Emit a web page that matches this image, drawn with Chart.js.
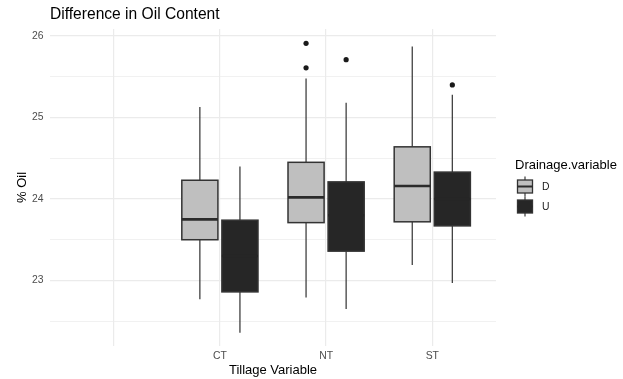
<!DOCTYPE html>
<html>
<head>
<meta charset="utf-8">
<script src="https://cdn.jsdelivr.net/npm/chart.js@4"></script>
<style>
  html, body { margin: 0; padding: 0; background: #ffffff; }
  #wrap { width: 623px; height: 379px; }
</style>
</head>
<body>
<div id="wrap"><canvas id="c" width="623" height="379"></canvas></div>
<script>
// ---- data ----
const categories = ['', 'CT', 'NT', 'ST'];
const groups = ['D', 'U'];
const yTicks = [22.5, 23, 23.5, 24, 24.5, 25, 25.5, 26];

const dMin = [null, 22.77, 22.79, 23.19];
const dQ1  = [null, 23.50, 23.71, 23.72];
const dMed = [null, 23.75, 24.02, 24.16];
const dQ3  = [null, 24.23, 24.45, 24.64];
const dMax = [null, 25.13, 25.48, 25.87];
const dOut = [[], [], [25.61, 25.91], []];

const uMin = [null, 22.36, 22.65, 22.97];
const uQ1  = [null, 22.86, 23.36, 23.67];
const uMed = [null, 23.30, 23.80, 24.00];
const uQ3  = [null, 23.74, 24.21, 24.33];
const uMax = [null, 24.40, 25.18, 25.28];
const uOut = [[], [], [25.71], [25.40]];

// ---- styling / layout ----
const FONT = "'Liberation Sans', Arial, Helvetica, sans-serif";
const fills = { D: '#bfbfbf', U: '#262626' };
const medianColors = { D: '#2b2b2b', U: '#262626' };
const dodge = { D: -0.1887, U: 0.1887 };
const boxHalf = 0.17;

const stats = {
  D: { min: dMin, q1: dQ1, med: dMed, q3: dQ3, max: dMax, out: dOut },
  U: { min: uMin, q1: uQ1, med: uMed, q3: uQ3, max: uMax, out: uOut }
};

function outlierPoints(g) {
  const pts = [];
  stats[g].out.forEach((arr, i) => arr.forEach(v => pts.push({ x: i + 1 + dodge[g], y: v })));
  return pts;
}

const boxPlugin = {
  id: 'boxes',
  beforeDatasetsDraw(chart) {
    const { ctx, scales: { x, y } } = chart;
    ctx.save();
    groups.forEach(g => {
      const s = stats[g];
      categories.forEach((c, i) => {
        if (s.q1[i] == null) return;
        const xc = x.getPixelForValue(i + 1 + dodge[g]);
        const hw = x.getPixelForValue(i + 1 + dodge[g] + boxHalf) - xc;
        const yMin = y.getPixelForValue(s.min[i]);
        const yQ1 = y.getPixelForValue(s.q1[i]);
        const yMed = y.getPixelForValue(s.med[i]);
        const yQ3 = y.getPixelForValue(s.q3[i]);
        const yMax = y.getPixelForValue(s.max[i]);
        // whiskers
        ctx.strokeStyle = '#3a3a3a';
        ctx.lineWidth = 1.25;
        ctx.beginPath();
        ctx.moveTo(xc, yQ1); ctx.lineTo(xc, yMin);
        ctx.moveTo(xc, yQ3); ctx.lineTo(xc, yMax);
        ctx.stroke();
        // box
        ctx.fillStyle = fills[g];
        ctx.fillRect(xc - hw, yQ3, 2 * hw, yQ1 - yQ3);
        ctx.lineWidth = 1.5;
        ctx.strokeStyle = '#333333';
        ctx.strokeRect(xc - hw, yQ3, 2 * hw, yQ1 - yQ3);
        // median
        ctx.lineWidth = 2.6;
        ctx.strokeStyle = medianColors[g];
        ctx.beginPath();
        ctx.moveTo(xc - hw, yMed); ctx.lineTo(xc + hw, yMed);
        ctx.stroke();
      });
    });
    ctx.restore();
  },
  afterDraw(chart) {
    const { ctx, chartArea } = chart;
    ctx.save();
    // plot title
    ctx.fillStyle = '#000000';
    ctx.font = '15.6px ' + FONT;
    ctx.textBaseline = 'middle';
    ctx.textAlign = 'left';
    ctx.fillText('Difference in Oil Content', chartArea.left, 15);
    // legend
    ctx.font = '13px ' + FONT;
    ctx.fillText('Drainage.variable', 515, 165);
    const keyY = [186.5, 206.5];
    groups.forEach((g, k) => {
      const cy = keyY[k];
      const cx = 525;
      ctx.strokeStyle = '#3a3a3a';
      ctx.lineWidth = 1.2;
      ctx.beginPath();
      ctx.moveTo(cx, cy - 10); ctx.lineTo(cx, cy + 10);
      ctx.stroke();
      ctx.fillStyle = fills[g];
      ctx.fillRect(cx - 7.5, cy - 6.5, 15, 13);
      ctx.lineWidth = 1.3;
      ctx.strokeStyle = '#333333';
      ctx.strokeRect(cx - 7.5, cy - 6.5, 15, 13);
      ctx.lineWidth = 2;
      ctx.strokeStyle = medianColors[g];
      ctx.beginPath();
      ctx.moveTo(cx - 7.5, cy); ctx.lineTo(cx + 7.5, cy);
      ctx.stroke();
      ctx.fillStyle = '#1a1a1a';
      ctx.font = '10.4px ' + FONT;
      ctx.fillText(g, 542, cy + 0.5);
    });
    ctx.restore();
  }
};

new Chart(document.getElementById('c'), {
  type: 'scatter',
  data: {
    datasets: groups.map(g => ({
      label: g,
      data: outlierPoints(g),
      backgroundColor: '#1a1a1a',
      borderColor: '#1a1a1a',
      pointRadius: 2.6,
      pointBorderWidth: 0
    }))
  },
  options: {
    responsive: false,
    animation: false,
    devicePixelRatio: 1,
    layout: { padding: { top: 29, right: 127, bottom: 0, left: 0 } },
    plugins: {
      legend: { display: false },
      tooltip: { enabled: false },
      title: { display: false }
    },
    scales: {
      x: {
        type: 'linear',
        min: 0.4,
        max: 4.6,
        afterBuildTicks: axis => { axis.ticks = categories.map((c, i) => ({ value: i + 1 })); },
        afterFit: s => { s.height = 33; },
        ticks: {
          autoSkip: false,
          maxRotation: 0,
          padding: 3.5,
          color: '#4d4d4d',
          font: { family: FONT, size: 10.4 },
          callback: v => categories[Math.round(v) - 1]
        },
        grid: { color: '#ebebeb', lineWidth: 1.2, drawTicks: false },
        border: { display: false },
        title: {
          display: true,
          text: 'Tillage Variable',
          color: '#000000',
          font: { family: FONT, size: 13 },
          padding: { top: 0, bottom: 1 }
        }
      },
      y: {
        type: 'linear',
        min: 22.196,
        max: 26.086,
        afterBuildTicks: axis => { axis.ticks = yTicks.map(v => ({ value: v })); },
        afterFit: s => { s.width = 50; },
        ticks: {
          autoSkip: false,
          padding: 6.5,
          color: '#4d4d4d',
          font: { family: FONT, size: 10.4 },
          callback: v => (Number.isInteger(v) ? String(v) : '')
        },
        grid: {
          color: '#ebebeb',
          lineWidth: ctx => (Number.isInteger(ctx.tick && ctx.tick.value) ? 1.2 : 0.7),
          drawTicks: false
        },
        border: { display: false },
        title: {
          display: true,
          text: '% Oil',
          color: '#000000',
          font: { family: FONT, size: 13 },
          padding: { top: 14.2, bottom: 0 }
        }
      }
    }
  },
  plugins: [boxPlugin]
});
</script>
</body>
</html>
